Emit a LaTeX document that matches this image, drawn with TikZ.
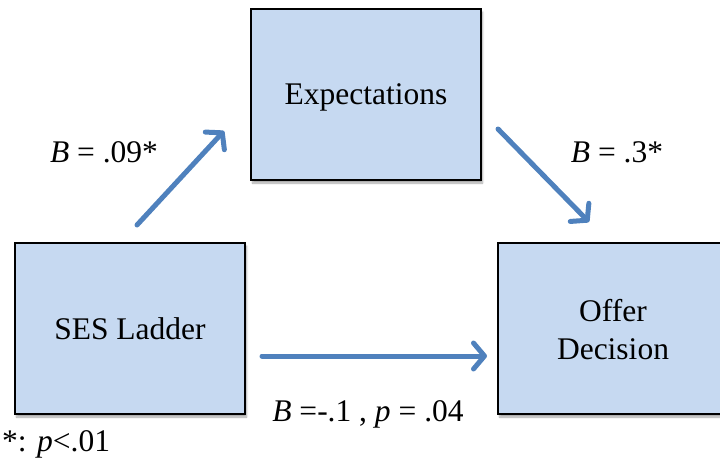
\documentclass[tikz,border=0pt]{standalone}
\usepackage{fontspec}
\setmainfont{Liberation Serif}
\usetikzlibrary{arrows.meta,shadows.blur}
\definecolor{boxfill}{HTML}{C6D9F1}
\definecolor{arrowblue}{HTML}{4F81BD}
\tikzset{
  varbox/.style={draw=black, line width=1.4pt, fill=boxfill, minimum width=230pt, minimum height=171pt,
    inner sep=0pt, align=center, font=\fontsize{31.5}{38}\selectfont,
    blur shadow={shadow xshift=1.5pt, shadow yshift=-3pt, shadow blur steps=6, shadow opacity=35}},
  onetext/.style={text depth=0pt},
  patharrow/.style={draw=arrowblue, line width=5pt, line cap=round,
    -{Straight Barb[length=11pt, width=26pt, line width=5pt, round]}},
  coef/.style={font=\fontsize{31.5}{36}\selectfont, inner sep=0pt}
}
\begin{document}
\begin{tikzpicture}[x=1pt,y=-1pt]
\useasboundingbox (0,0) rectangle (720,469);
\clip (0,0) rectangle (720,469);
\node[varbox, onetext] (exp) at (366,94.5) {Expectations};
\node[varbox, onetext] (ses) at (130,328.5) {SES Ladder};
\node[varbox] (off) at (613,328.5) {\raisebox{0pt}[\dimexpr\height+9pt\relax][\depth]{\begin{tabular}{@{}c@{}}Offer\\Decision\end{tabular}}};
\coordinate (a1s) at (137,225);
\coordinate (a1e) at (224,131);
\coordinate (a2s) at (498,129);
\coordinate (a2e) at (589,222);
\coordinate (a3s) at (262,356);
\coordinate (a3e) at (487,356);
\draw[patharrow] (a1s) -- (a1e);
\draw[patharrow] (a2s) -- (a2e);
\draw[patharrow] (a3s) -- (a3e);
\node[coef] (l1) at (104,152) {\textit{B} = .09*};
\node[coef] (l2) at (617,152) {\textit{B} = .3*};
\node[coef] (l3) at (368,414) {\textit{B} =-.1 , \textit{p} = .04};
\node[coef, anchor=west] (note) at (2,444) {*: \textit{p}<.01};
\end{tikzpicture}
\end{document}
